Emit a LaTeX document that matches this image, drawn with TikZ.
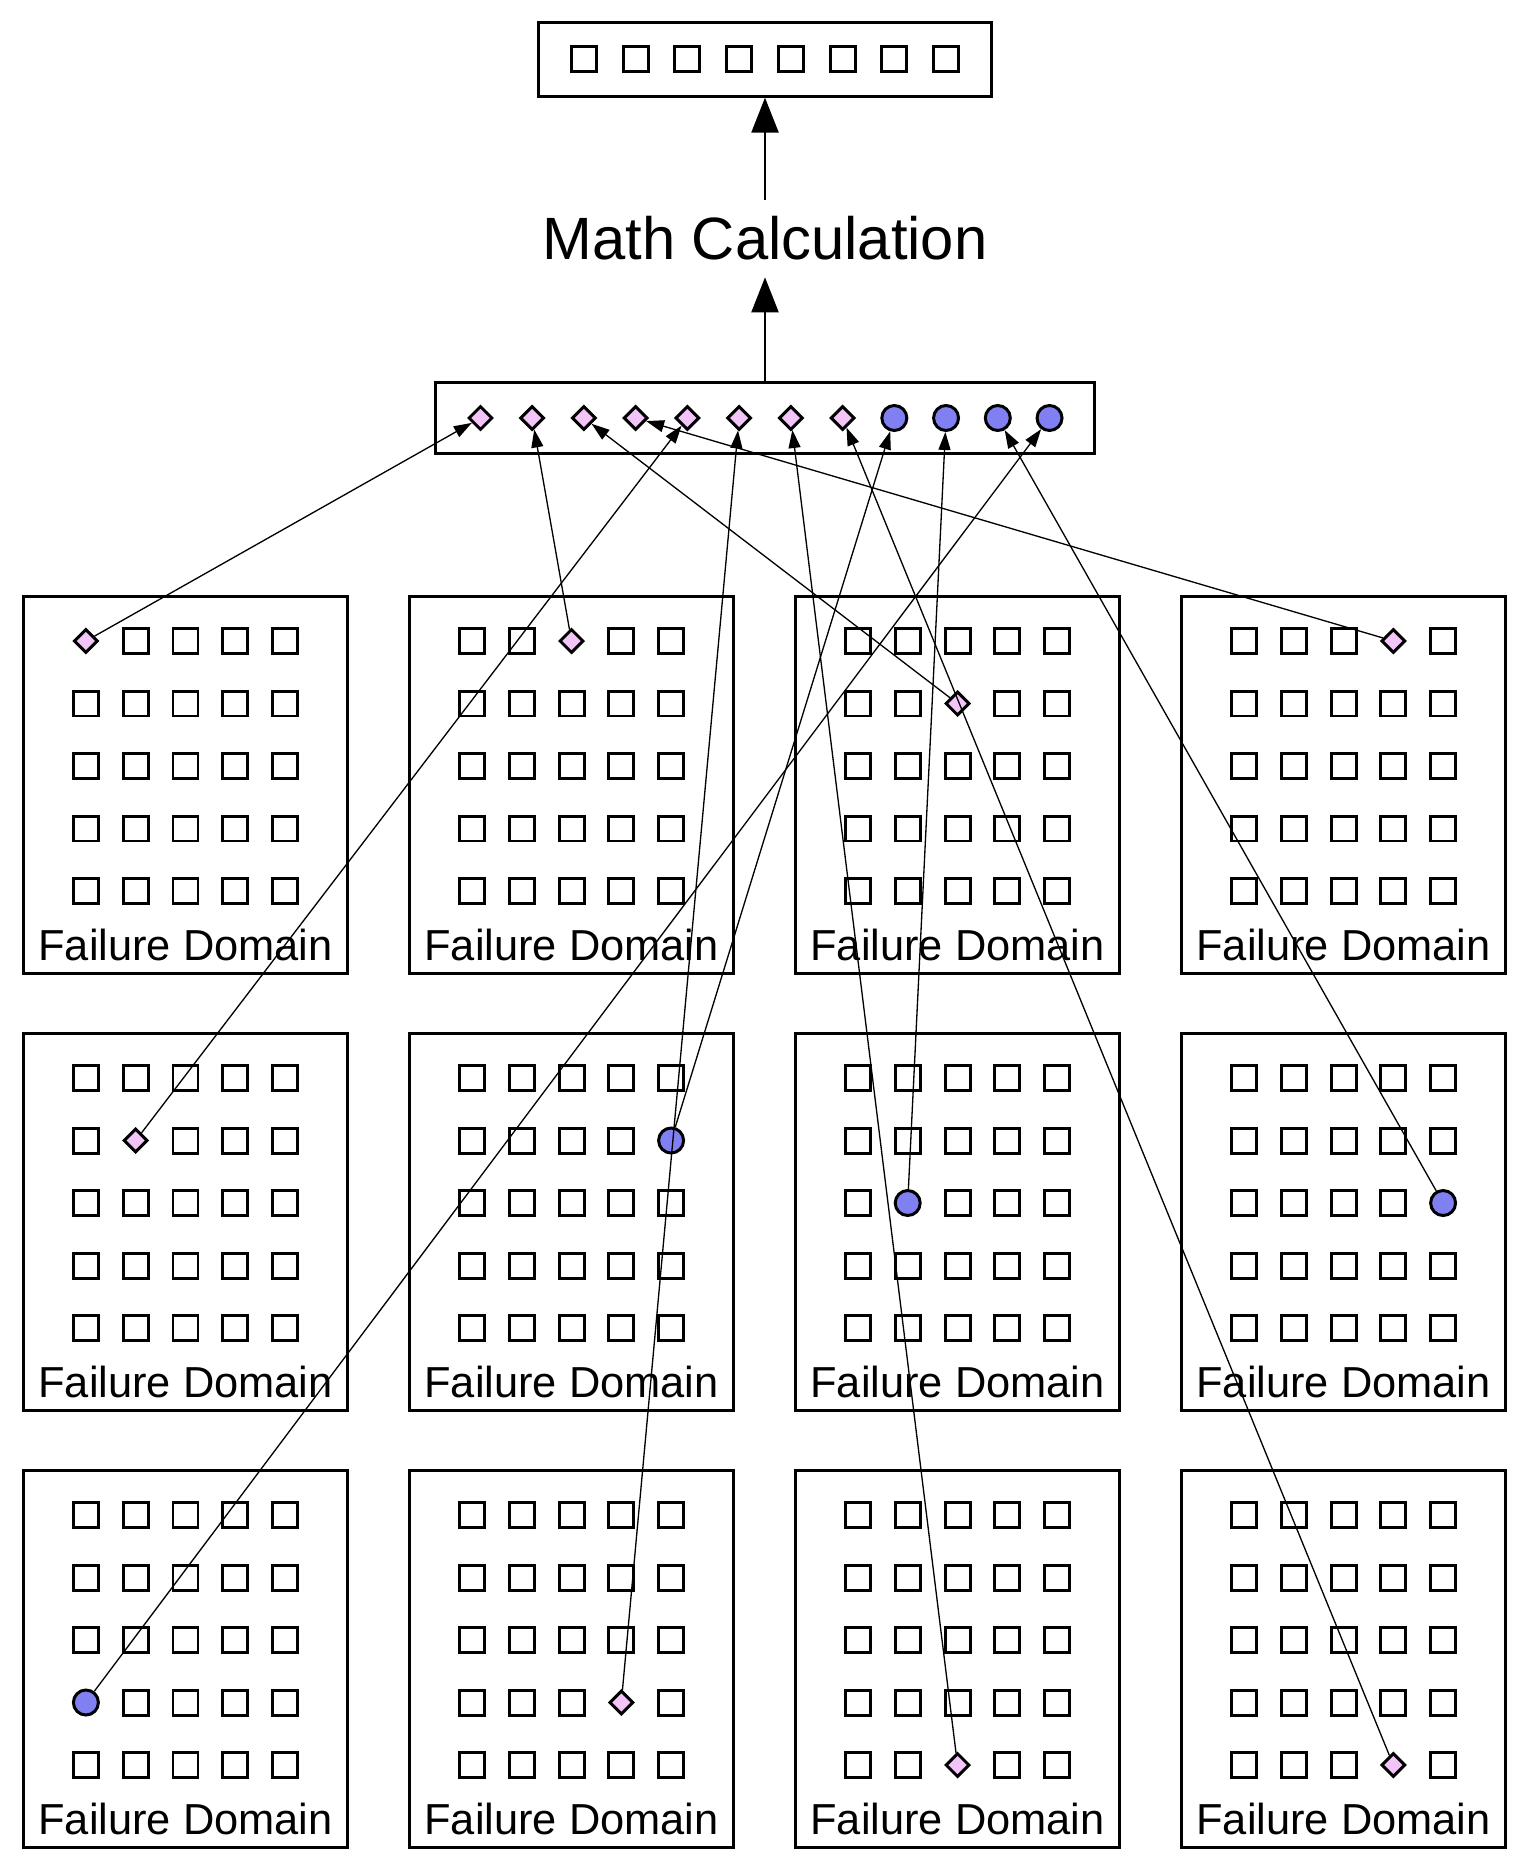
\documentclass[tikz,border=0pt]{standalone}
\usepackage{fontspec}
\setmainfont{Liberation Sans}
\usetikzlibrary{arrows.meta,shapes.geometric,positioning}

\definecolor{pinkfill}{HTML}{F2C4F7}
\definecolor{bluefill}{HTML}{8080F2}

\begin{document}
\begin{tikzpicture}[x=0.02cm,y=-0.02cm,
    box/.style={draw,line width=1.6pt,inner sep=0pt},
    cell/.style={draw,line width=1.7pt,inner sep=0pt,minimum size=0.5cm},
    diam/.style={diamond,draw,line width=1.7pt,inner sep=0pt,fill=pinkfill,minimum width=0.48cm,minimum height=0.48cm},
    disc/.style={circle,draw,line width=1.7pt,inner sep=0pt,fill=bluefill,minimum size=0.5cm},
    fdlabel/.style={anchor=base,inner sep=0pt,font=\fontsize{24.7}{29}\selectfont},
    conn/.style={->,>={Triangle[length=0.36cm,width=0.24cm]},line width=0.75pt},
    bigarrow/.style={->,>={Triangle[length=0.7cm,width=0.54cm]},line width=1.3pt}]
    \useasboundingbox (0,0) rectangle (1528,1868);

    % Nodes
    \node[box,minimum width=9.05cm,minimum height=1.47cm] (out) at (765,59.5) {};
    \foreach \k in {0,...,7}
        \node[cell] (out-\k) at ({765+51.73*(\k-3.5)},59) {};

    \node[inner sep=0pt,minimum height=1.54cm,font=\fontsize{34}{40}\selectfont] (math) at (765,238.5) {Math Calculation};

    \node[box,minimum width=13.19cm,minimum height=1.43cm] (agg) at (765,418) {};
    \foreach \k in {0,...,7}
        \node[diam] (agg-\k) at ({765+51.73*(\k-5.5)},418) {};
    \foreach \k in {8,...,11}
        \node[disc] (agg-\k) at ({765+51.73*(\k-5.5)},418) {};

    % Failure domains: row/col/picked row/picked col/style/slot
    \foreach \r/\c/\sr/\sc/\kind/\k in {0/0/0/0/diam/0, 0/1/0/2/diam/1, 0/2/1/2/diam/2, 0/3/0/3/diam/3,
        1/0/1/1/diam/4, 1/1/1/4/disc/8, 1/2/2/1/disc/9, 1/3/2/4/disc/10,
        2/0/3/0/disc/11, 2/1/3/3/diam/5, 2/2/4/2/diam/6, 2/3/4/3/diam/7}{
        \node[box,minimum width=6.48cm,minimum height=7.55cm] (fd-\r-\c) at ({185.5+386*\c},{785+437*\r}) {};
        \node[fdlabel] (lbl-\r-\c) at ({185.5+386*\c},{960+437*\r}) {Failure Domain};
        \foreach \i in {0,...,4}{
            \foreach \j in {0,...,4}{
                \pgfmathtruncatemacro\hit{and(\i==\sr,\j==\sc)}
                \ifnum\hit=1
                    \node[\kind] (src-\k) at ({185.5+386*\c+49.8*(\j-2)},{641+437*\r+62.5*\i}) {};
                \else
                    \node[cell] (cell-\r-\c-\i-\j) at ({185.5+386*\c+49.8*(\j-2)},{641+437*\r+62.5*\i}) {};
                \fi
            }
        }
    }

    % Arrows
    \draw[bigarrow] (agg) -- (math);
    \draw[bigarrow] (math) -- (out);
    \foreach \k in {0,...,11}
        \draw[conn] (src-\k) -- (agg-\k);
\end{tikzpicture}
\end{document}
